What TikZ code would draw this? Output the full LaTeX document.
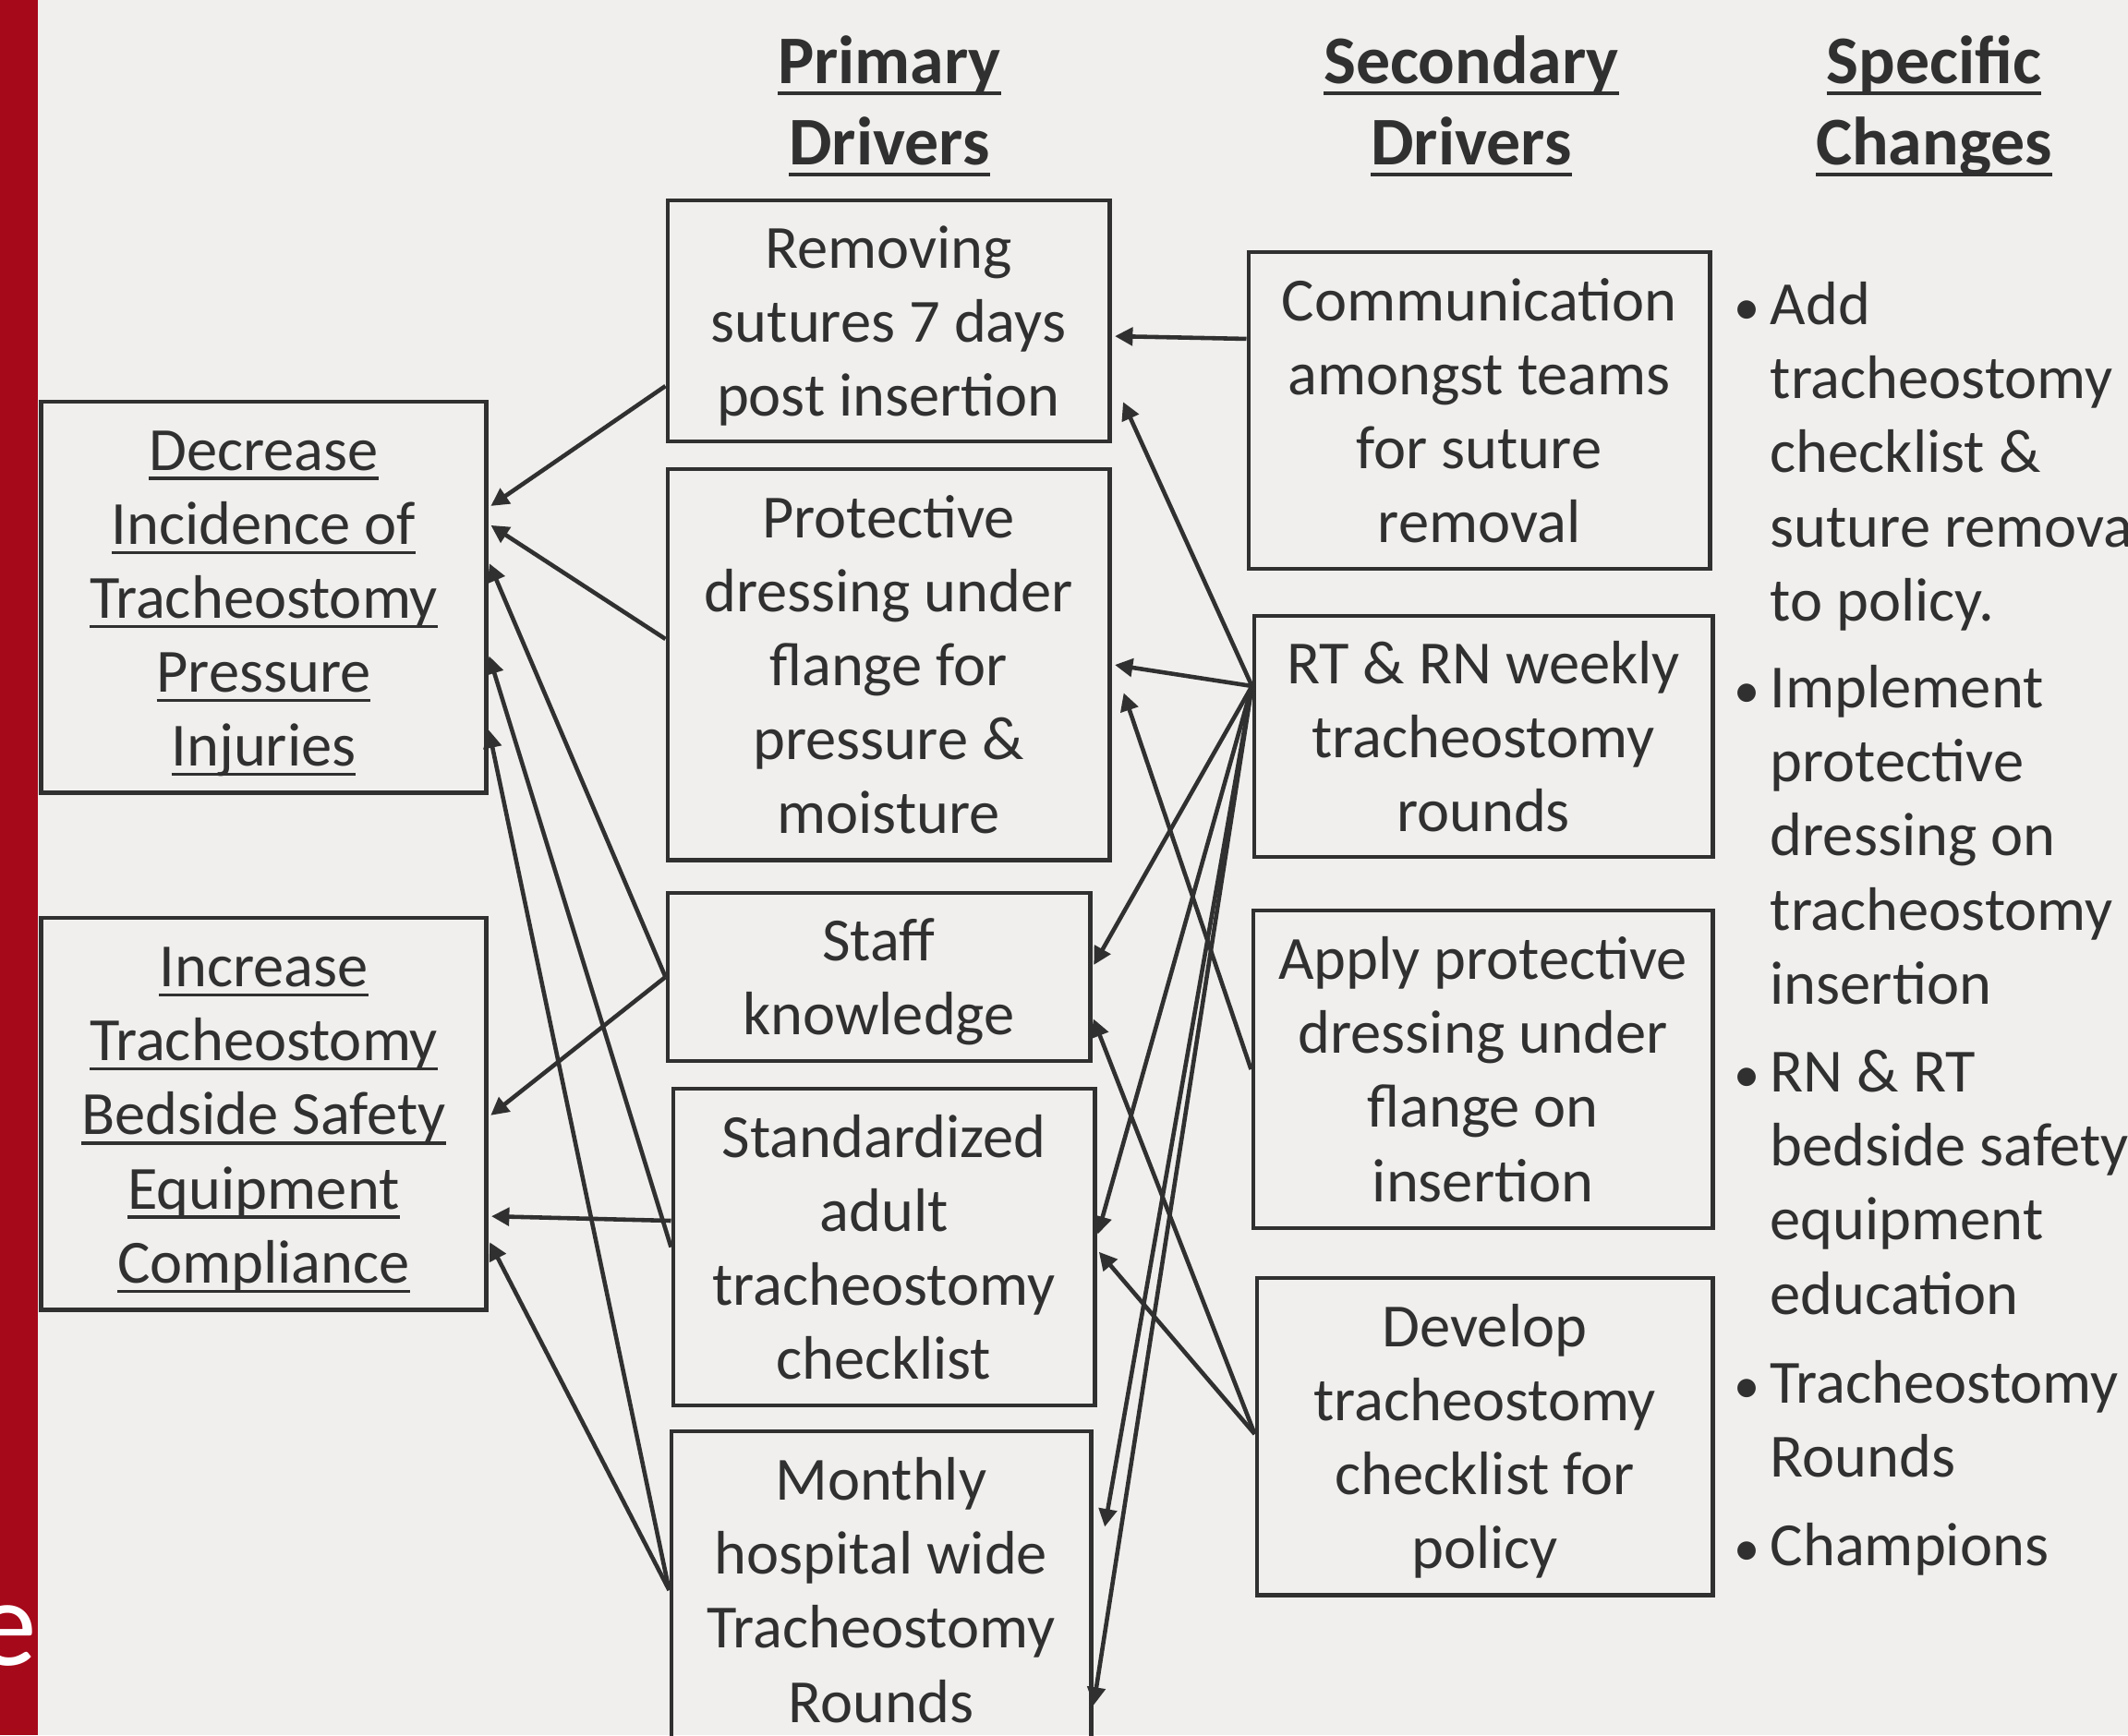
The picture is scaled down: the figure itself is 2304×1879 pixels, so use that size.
\documentclass[tikz,border=0pt]{standalone}
\usepackage{fontspec}
\setmainfont{Carlito}
\usepackage{xcolor}
\usetikzlibrary{arrows.meta}

\definecolor{slide}{RGB}{240,239,237}
\definecolor{ink}{RGB}{48,48,48}
\definecolor{barred}{RGB}{166,9,26}

\newcommand\bodysize{\fontsize{18.9pt}{22.8pt}\selectfont}
\newcommand\headsize{\fontsize{21pt}{25pt}\selectfont\bfseries}
\newcommand\ulword[1]{\setbox0=\hbox{#1}\rlap{\rule[-0.16em]{\wd0}{0.05em}}\box0}
\newcommand\bulletmark{\llap{\rule{0pt}{14pt}{\fontsize{16pt}{20pt}\selectfont\textbullet}\hspace{3.2pt}}}
\newcommand\drvtext[1]{\rule{0pt}{18pt}#1\rule[-5pt]{0pt}{5pt}}

\begin{document}
\begin{tikzpicture}[x=0.01cm,y=-0.01cm,>={Triangle[length=5.5pt,width=5.5pt]},
  every node/.style={text=ink,font=\bodysize},
  box/.style={draw=ink,line width=1.35pt,align=center,inner sep=0pt},
  head/.style={anchor=north,align=center,inner sep=0pt,font=\headsize},
  change/.style={anchor=north west,align=left,inner sep=0pt},
  link/.style={->,draw=ink,line width=1.3pt,shorten >=1pt}]
  \useasboundingbox (0,0) rectangle (2304,1879);
  \clip (0,0) rectangle (2304,1879);
  \fill[slide] (0,0) rectangle (2304,1879);
  \fill[barred] (0,0) rectangle (41,1879);
  \node[anchor=base east,inner sep=0pt,text=white,font=\fontsize{38pt}{44pt}\selectfont] (bar letter) at (41,1803) {e};

  % column headings
  \node[head] (primary) at (963,34) {\rule{0pt}{16pt}\ulword{Primary}\\\ulword{Drivers}};
  \node[head] (secondary) at (1593,34) {\rule{0pt}{16pt}\ulword{Secondary}\\\ulword{Drivers}};
  \node[head] (specific) at (2094,34) {\rule{0pt}{16pt}\ulword{Specific}\\\ulword{Changes}};

  % aims
  \node[box,minimum width=4.81cm,minimum height=4.23cm] (dec) at (285.5,646.5)
    {\drvtext{\ulword{Decrease}\\\ulword{Incidence of}\\\ulword{Tracheostomy}\\\ulword{Pressure}\\\ulword{Injuries}}};
  \node[box,minimum width=4.81cm,minimum height=4.24cm] (inc) at (285.5,1206)
    {\drvtext{\ulword{Increase}\\\ulword{Tracheostomy}\\\ulword{Bedside Safety}\\\ulword{Equipment}\\\ulword{Compliance}}};

  % primary drivers
  \node[box,minimum width=4.78cm,minimum height=2.61cm] (rem) at (962,347.5) {\drvtext{Removing\\sutures 7 days\\post insertion}};
  \node[box,minimum width=4.78cm,minimum height=4.23cm] (prot) at (962,719.5) {\drvtext{Protective\\dressing under\\flange for\\pressure \&\\moisture}};
  \node[box,minimum width=4.57cm,minimum height=1.82cm] (staff) at (951.5,1058) {\drvtext{Staff\\knowledge}};
  \node[box,minimum width=4.56cm,minimum height=3.43cm] (std) at (957,1350.5) {\drvtext{Standardized\\adult\\tracheostomy\\checklist}};
  \node[box,minimum width=4.54cm,minimum height=3.44cm] (mon) at (954,1722) {\drvtext{Monthly\\hospital wide\\Tracheostomy\\Rounds}};

  % secondary drivers
  \node[box,minimum width=4.99cm,minimum height=3.43cm] (comm) at (1601.5,444.5) {\drvtext{Communication\\amongst teams\\for suture\\removal}};
  \node[box,minimum width=4.96cm,minimum height=2.61cm] (rt) at (1606,797.5) {\drvtext{RT \& RN weekly\\tracheostomy\\rounds}};
  \node[box,minimum width=4.97cm,minimum height=3.44cm] (apply) at (1605.5,1158) {\drvtext{Apply protective\\dressing under\\flange on\\insertion}};
  \node[box,minimum width=4.93cm,minimum height=3.43cm] (dev) at (1607.5,1555.5) {\drvtext{Develop\\tracheostomy\\checklist for\\policy}};

  % specific changes
  \node[change] (chg1) at (1916,301.6) {\bulletmark Add\\tracheostomy\\checklist \&\\suture removal\\to policy.};
  \node[change] (chg2) at (1916,716.6) {\bulletmark Implement\\protective\\dressing on\\tracheostomy\\insertion};
  \node[change] (chg3) at (1916,1132.6) {\bulletmark RN \& RT\\bedside safety\\equipment\\education};
  \node[change] (chg4) at (1916,1469.6) {\bulletmark Tracheostomy\\Rounds};
  \node[change] (chg5) at (1916,1645.6) {\bulletmark Champions};

  \coordinate (rt hub) at ([yshift=5.45mm]rt.west);
  \coordinate (dev hub) at ([yshift=0.25mm]dev.west);

  % primary -> aims
  \draw[link] ([yshift=-7.05mm]rem.west) -- ([yshift=9.65mm]dec.east);
  \draw[link] ([yshift=2.75mm]prot.west) -- ([yshift=7.95mm]dec.east);
  \draw[link] (staff.west) -- ([yshift=3.95mm]dec.east);
  \draw[link] (std.west) -- ([yshift=-6.05mm]dec.east);
  \draw[link] (mon.west) -- ([yshift=-14.05mm]dec.east);
  \draw[link] (staff.west) -- ([yshift=-0.4mm]inc.east);
  \draw[link] ([yshift=2.85mm]std.west) -- ([yshift=-11.1mm]inc.east);
  \draw[link] (mon.west) -- ([yshift=-13.6mm]inc.east);

  % secondary -> primary
  \draw[link] ([yshift=7.75mm]comm.west) -- ([yshift=-1.65mm]rem.east);
  \draw[link] (rt hub) -- ([xshift=1.1mm,yshift=-8.45mm]rem.east);
  \draw[link] (rt hub) -- (prot.east);
  \draw[link] (apply.west) -- ([xshift=1.2mm,yshift=-2.75mm]prot.east);
  \draw[link] (rt hub) -- ([yshift=1mm]staff.east);
  \draw[link] (dev hub) -- ([yshift=-4.2mm]staff.east);
  \draw[link] (rt hub) -- ([yshift=1.05mm]std.east);
  \draw[link] (dev hub) -- ([yshift=-0.25mm]std.east);
  \draw[link] (rt hub) -- ([xshift=1.2mm,yshift=6.5mm]mon.east);
  \draw[link] (rt hub) -- ([yshift=-12.8mm]mon.east);
\end{tikzpicture}
\end{document}
